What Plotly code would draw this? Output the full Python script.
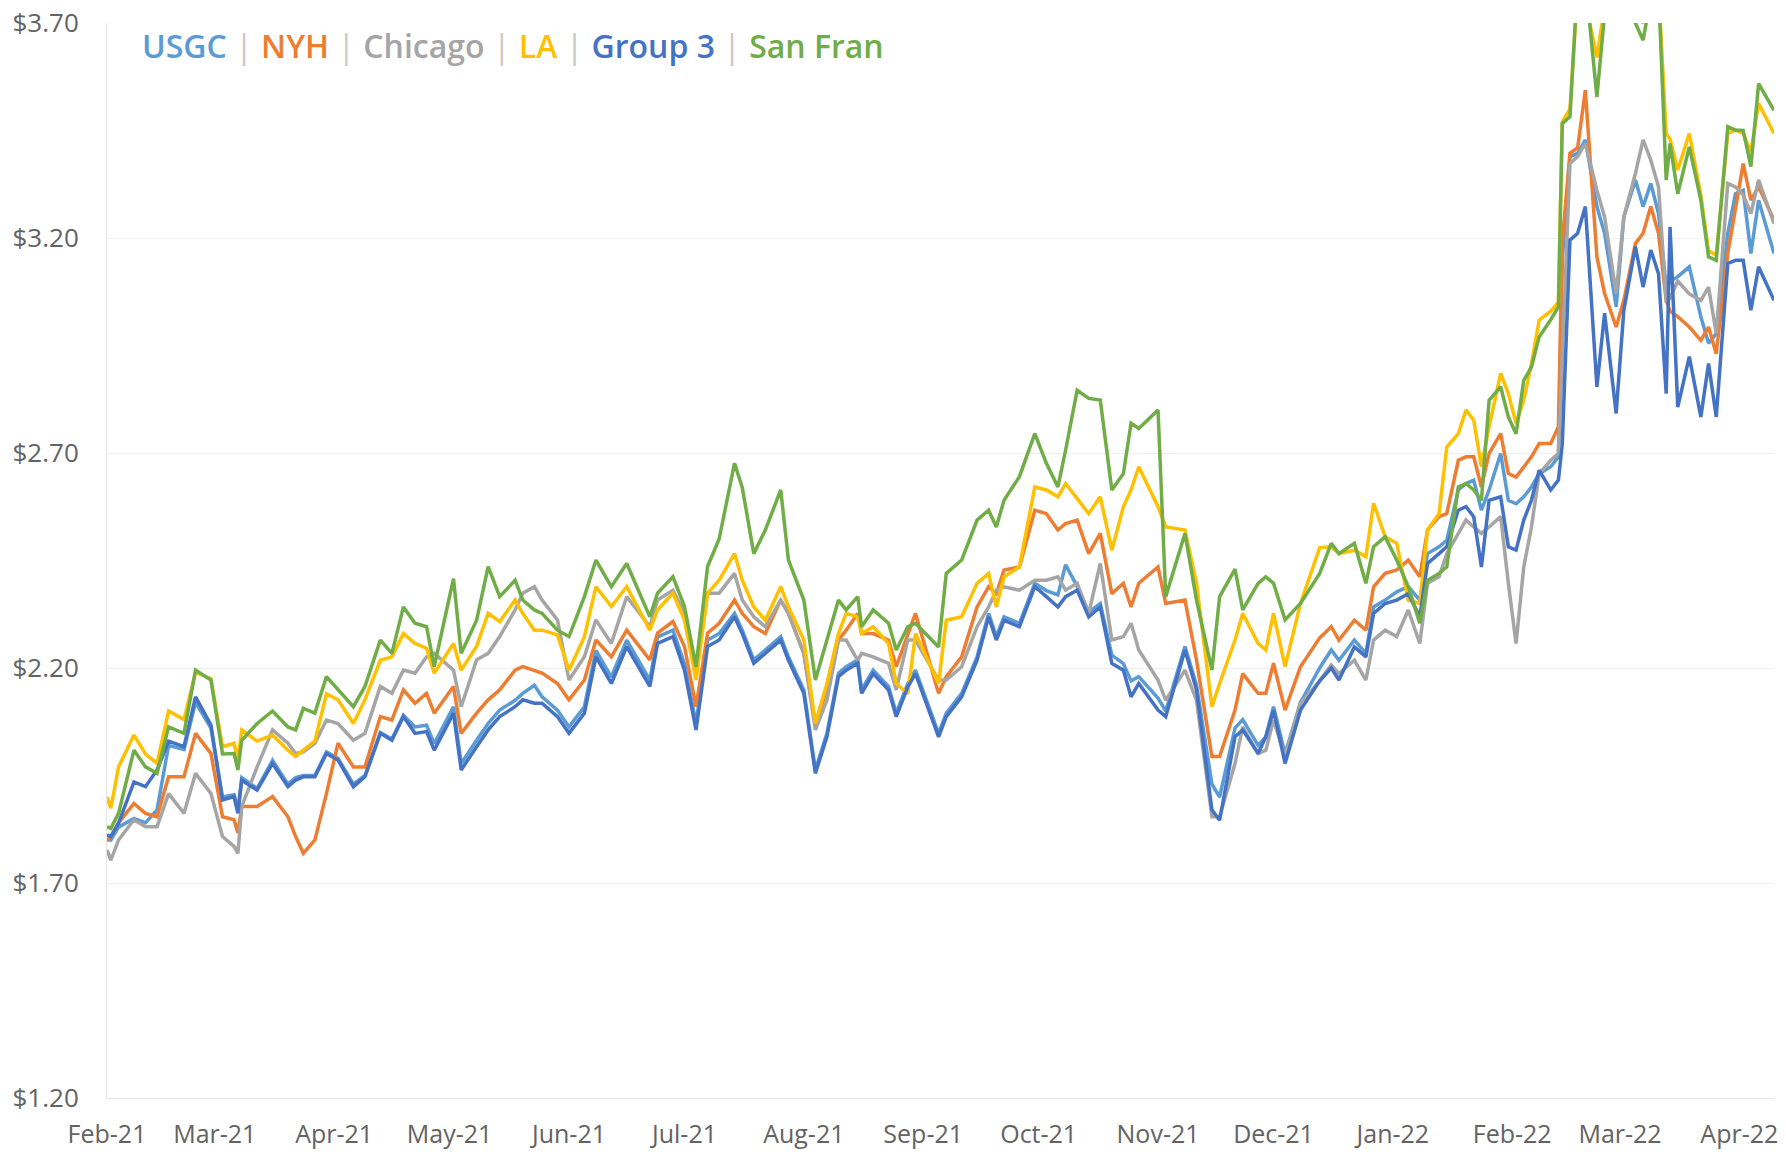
import plotly.graph_objects as go

DATES = [
    # Feb - Apr 2021
    "2021-02-01", "2021-02-02", "2021-02-04", "2021-02-08", "2021-02-11", "2021-02-14", "2021-02-17",
    "2021-02-21", "2021-02-24", "2021-02-28", "2021-03-03", "2021-03-06", "2021-03-07", "2021-03-08",
    "2021-03-12", "2021-03-16", "2021-03-20", "2021-03-22", "2021-03-24", "2021-03-27", "2021-03-30",
    "2021-04-02", "2021-04-06", "2021-04-09", "2021-04-13", "2021-04-16", "2021-04-19",
    # Apr - Jul 2021
    "2021-04-22", "2021-04-25", "2021-04-27", "2021-05-02", "2021-05-04", "2021-05-08", "2021-05-11",
    "2021-05-14", "2021-05-18", "2021-05-20", "2021-05-23", "2021-05-25", "2021-05-29", "2021-06-01",
    "2021-06-05", "2021-06-08", "2021-06-12", "2021-06-16", "2021-06-22", "2021-06-24", "2021-06-28",
    "2021-07-01", "2021-07-04", "2021-07-07", "2021-07-10",
    # Jul - Sep 2021
    "2021-07-14", "2021-07-16", "2021-07-19", "2021-07-22", "2021-07-26", "2021-07-28", "2021-08-01",
    "2021-08-04", "2021-08-07", "2021-08-10", "2021-08-12", "2021-08-15", "2021-08-16", "2021-08-19",
    "2021-08-23", "2021-08-25", "2021-08-28", "2021-08-30", "2021-09-05", "2021-09-07", "2021-09-11",
    "2021-09-15", "2021-09-18", "2021-09-20", "2021-09-22", "2021-09-26", "2021-09-30",
    # Oct - Dec 2021
    "2021-10-03", "2021-10-06", "2021-10-08", "2021-10-11", "2021-10-14", "2021-10-17", "2021-10-20",
    "2021-10-23", "2021-10-25", "2021-10-27", "2021-11-01", "2021-11-03", "2021-11-08", "2021-11-11",
    "2021-11-15", "2021-11-17", "2021-11-21", "2021-11-23", "2021-11-27", "2021-11-29", "2021-12-01",
    "2021-12-04", "2021-12-08", "2021-12-13",
    # Dec 2021 - Jan 2022
    "2021-12-16", "2021-12-18", "2021-12-22", "2021-12-25", "2021-12-27", "2021-12-30", "2022-01-02",
    "2022-01-05", "2022-01-08", "2022-01-10", "2022-01-13",
    # Jan - Feb 2022
    "2022-01-15", "2022-01-18", "2022-01-20", "2022-01-22", "2022-01-24", "2022-01-26", "2022-01-29",
    "2022-01-31", "2022-02-02", "2022-02-04", "2022-02-06", "2022-02-08", "2022-02-11", "2022-02-13",
    # Feb - Apr 2022
    "2022-02-14", "2022-02-16", "2022-02-18", "2022-02-20", "2022-02-23", "2022-02-25", "2022-02-28",
    "2022-03-02", "2022-03-05", "2022-03-07", "2022-03-09", "2022-03-11", "2022-03-13", "2022-03-14",
    "2022-03-16", "2022-03-19", "2022-03-22", "2022-03-24", "2022-03-26", "2022-03-29", "2022-03-31",
    "2022-04-02", "2022-04-04", "2022-04-06", "2022-04-10",
]

USGC = [
    1.800, 1.800, 1.830, 1.850, 1.840, 1.870, 2.020, 2.010, 2.120, 2.060, 1.900, 1.905, 1.870, 1.945,
    1.920, 1.985, 1.930, 1.945, 1.950, 1.950, 2.005, 1.990, 1.930, 1.950, 2.050, 2.035, 2.090,
    2.063, 2.067, 2.024, 2.110, 1.978, 2.032, 2.071, 2.102, 2.125, 2.141, 2.160, 2.133, 2.102, 2.063,
    2.110, 2.241, 2.179, 2.265, 2.172, 2.272, 2.288, 2.210, 2.071, 2.265, 2.280,
    2.327, 2.288, 2.219, 2.242, 2.273, 2.226, 2.149, 1.963, 2.048, 2.188, 2.203, 2.219, 2.149, 2.195,
    2.157, 2.095, 2.164, 2.195, 2.048, 2.095, 2.141, 2.226, 2.327, 2.273, 2.319, 2.304, 2.397,
    2.380, 2.370, 2.440, 2.390, 2.330, 2.350, 2.230, 2.210, 2.170, 2.180, 2.130, 2.100, 2.250, 2.160,
    1.930, 1.900, 2.060, 2.080, 2.020, 2.040, 2.110, 2.000, 2.120, 2.200,
    2.242, 2.218, 2.265, 2.234, 2.342, 2.358, 2.377, 2.389, 2.358, 2.466, 2.482,
    2.497, 2.614, 2.629, 2.637, 2.567, 2.614, 2.699, 2.590, 2.582, 2.598, 2.621, 2.652, 2.668, 2.691,
    3.150, 3.389, 3.397, 3.428, 3.273, 3.211, 3.040, 3.249, 3.335, 3.273, 3.327, 3.257, 3.086, 3.100,
    3.110, 3.133, 3.017, 2.955, 2.978, 3.211, 3.303, 3.311, 3.164, 3.288, 3.164,
]

NYH = [
    1.800, 1.808, 1.840, 1.885, 1.862, 1.854, 1.947, 1.947, 2.048, 2.001, 1.854, 1.847, 1.816, 1.878,
    1.878, 1.901, 1.854, 1.808, 1.769, 1.800, 1.908, 2.025, 1.970, 1.970, 2.087, 2.079, 2.149,
    2.118, 2.141, 2.095, 2.157, 2.048, 2.095, 2.126, 2.149, 2.195, 2.203, 2.195, 2.188, 2.164, 2.126,
    2.172, 2.265, 2.226, 2.288, 2.219, 2.281, 2.308, 2.250, 2.110, 2.281, 2.304,
    2.358, 2.327, 2.296, 2.280, 2.358, 2.327, 2.234, 2.071, 2.149, 2.265, 2.288, 2.327, 2.280, 2.280,
    2.265, 2.203, 2.280, 2.327, 2.141, 2.180, 2.226, 2.342, 2.389, 2.373, 2.428, 2.435, 2.567,
    2.559, 2.521, 2.536, 2.544, 2.466, 2.513, 2.373, 2.397, 2.342, 2.397, 2.435, 2.350, 2.358, 2.218,
    1.994, 1.994, 2.102, 2.187, 2.141, 2.141, 2.211, 2.102, 2.203, 2.270,
    2.296, 2.265, 2.311, 2.288, 2.389, 2.420, 2.428, 2.451, 2.412, 2.521, 2.552,
    2.559, 2.683, 2.691, 2.691, 2.621, 2.699, 2.745, 2.652, 2.644, 2.668, 2.691, 2.722, 2.722, 2.761,
    3.190, 3.397, 3.410, 3.544, 3.156, 3.071, 2.993, 3.055, 3.187, 3.211, 3.273, 3.211, 3.055, 3.030,
    3.017, 2.993, 2.962, 2.993, 2.931, 3.164, 3.273, 3.373, 3.288, 3.319, 3.242,
]

CHICAGO = [
    1.777, 1.753, 1.800, 1.847, 1.831, 1.831, 1.908, 1.862, 1.955, 1.908, 1.808, 1.785, 1.769, 1.878,
    1.970, 2.056, 2.025, 2.001, 2.005, 2.025, 2.079, 2.071, 2.032, 2.048, 2.157, 2.141, 2.195,
    2.188, 2.226, 2.234, 2.195, 2.110, 2.219, 2.234, 2.273, 2.335, 2.374, 2.389, 2.358, 2.312, 2.172,
    2.226, 2.312, 2.257, 2.366, 2.296, 2.358, 2.381, 2.327, 2.188, 2.374, 2.374,
    2.420, 2.358, 2.319, 2.296, 2.358, 2.327, 2.234, 2.056, 2.125, 2.265, 2.265, 2.218, 2.234, 2.226,
    2.211, 2.149, 2.265, 2.265, 2.172, 2.172, 2.203, 2.296, 2.342, 2.381, 2.389, 2.381, 2.404,
    2.404, 2.412, 2.381, 2.397, 2.327, 2.443, 2.265, 2.273, 2.304, 2.242, 2.172, 2.125, 2.195, 2.125,
    1.854, 1.854, 1.978, 2.063, 2.001, 2.009, 2.079, 1.994, 2.118, 2.170,
    2.207, 2.187, 2.218, 2.172, 2.265, 2.288, 2.273, 2.335, 2.257, 2.397, 2.412,
    2.466, 2.513, 2.544, 2.528, 2.513, 2.528, 2.552, 2.397, 2.257, 2.435, 2.528, 2.652, 2.683, 2.699,
    2.940, 3.373, 3.390, 3.420, 3.311, 3.249, 3.071, 3.249, 3.350, 3.428, 3.381, 3.319, 3.055, 3.060,
    3.100, 3.070, 3.055, 3.086, 2.978, 3.327, 3.319, 3.300, 3.257, 3.335, 3.234,
]

LA = [
    1.900, 1.874, 1.970, 2.044, 2.000, 1.978, 2.100, 2.080, 2.190, 2.175, 2.017, 2.025, 1.986, 2.056,
    2.030, 2.044, 2.009, 1.994, 2.009, 2.030, 2.140, 2.126, 2.071, 2.126, 2.218, 2.226, 2.280,
    2.257, 2.246, 2.188, 2.257, 2.195, 2.250, 2.327, 2.308, 2.358, 2.327, 2.288, 2.288, 2.277, 2.195,
    2.273, 2.389, 2.343, 2.389, 2.288, 2.335, 2.374, 2.312, 2.172, 2.374, 2.404,
    2.466, 2.404, 2.342, 2.311, 2.389, 2.342, 2.265, 2.071, 2.164, 2.280, 2.327, 2.319, 2.280, 2.296,
    2.257, 2.164, 2.140, 2.280, 2.164, 2.311, 2.319, 2.397, 2.420, 2.342, 2.412, 2.435, 2.621,
    2.614, 2.598, 2.629, 2.594, 2.559, 2.598, 2.474, 2.575, 2.614, 2.668, 2.575, 2.528, 2.521, 2.397,
    2.110, 2.164, 2.265, 2.327, 2.257, 2.242, 2.327, 2.203, 2.350, 2.480,
    2.482, 2.466, 2.474, 2.459, 2.583, 2.505, 2.490, 2.358, 2.350, 2.521, 2.559,
    2.714, 2.745, 2.800, 2.776, 2.668, 2.761, 2.885, 2.838, 2.769, 2.823, 2.908, 3.009, 3.030, 3.050,
    3.470, 3.500, 3.780, 3.750, 3.620, 3.740, 3.770, 3.760, 3.720, 3.700, 3.780, 3.780, 3.443, 3.430,
    3.358, 3.443, 3.300, 3.170, 3.160, 3.443, 3.451, 3.443, 3.400, 3.513, 3.443,
]

GROUP3 = [
    1.812, 1.808, 1.839, 1.935, 1.924, 1.963, 2.030, 2.017, 2.133, 2.067, 1.893, 1.901, 1.862, 1.939,
    1.916, 1.978, 1.924, 1.939, 1.947, 1.947, 2.001, 1.986, 1.924, 1.947, 2.048, 2.032, 2.087,
    2.048, 2.052, 2.009, 2.095, 1.963, 2.017, 2.056, 2.087, 2.110, 2.126, 2.118, 2.118, 2.087, 2.048,
    2.095, 2.226, 2.164, 2.250, 2.157, 2.257, 2.273, 2.195, 2.056, 2.250, 2.265,
    2.319, 2.280, 2.211, 2.234, 2.265, 2.218, 2.141, 1.955, 2.040, 2.180, 2.195, 2.211, 2.141, 2.187,
    2.149, 2.087, 2.156, 2.187, 2.040, 2.087, 2.133, 2.218, 2.319, 2.265, 2.311, 2.296, 2.389,
    2.366, 2.342, 2.366, 2.381, 2.319, 2.342, 2.211, 2.195, 2.133, 2.164, 2.102, 2.087, 2.242, 2.149,
    1.870, 1.846, 2.040, 2.056, 2.001, 2.040, 2.102, 1.978, 2.102, 2.170,
    2.200, 2.172, 2.249, 2.226, 2.327, 2.350, 2.358, 2.373, 2.319, 2.443, 2.466,
    2.482, 2.567, 2.575, 2.552, 2.435, 2.590, 2.598, 2.482, 2.474, 2.544, 2.590, 2.660, 2.614, 2.637,
    2.720, 3.195, 3.211, 3.273, 2.854, 3.025, 2.792, 3.032, 3.180, 3.086, 3.172, 3.117, 2.838, 3.226,
    2.807, 2.924, 2.784, 2.908, 2.784, 3.141, 3.148, 3.148, 3.032, 3.133, 3.055,
]

SAN_FRAN = [
    1.831, 1.827, 1.862, 2.009, 1.970, 1.955, 2.063, 2.048, 2.195, 2.172, 2.000, 2.001, 1.963, 2.032,
    2.071, 2.100, 2.063, 2.056, 2.106, 2.095, 2.180, 2.149, 2.110, 2.157, 2.265, 2.234, 2.342,
    2.304, 2.296, 2.203, 2.408, 2.234, 2.311, 2.436, 2.366, 2.404, 2.358, 2.335, 2.327, 2.288, 2.273,
    2.366, 2.451, 2.389, 2.443, 2.319, 2.374, 2.412, 2.343, 2.203, 2.436, 2.500,
    2.676, 2.620, 2.466, 2.521, 2.614, 2.451, 2.358, 2.172, 2.265, 2.358, 2.335, 2.366, 2.296, 2.335,
    2.304, 2.242, 2.296, 2.304, 2.249, 2.420, 2.451, 2.544, 2.567, 2.528, 2.590, 2.645, 2.745,
    2.676, 2.621, 2.707, 2.846, 2.827, 2.823, 2.614, 2.652, 2.769, 2.757, 2.800, 2.366, 2.513, 2.358,
    2.195, 2.366, 2.430, 2.335, 2.397, 2.412, 2.397, 2.312, 2.350, 2.420,
    2.490, 2.466, 2.490, 2.397, 2.482, 2.505, 2.451, 2.389, 2.304, 2.404, 2.420,
    2.435, 2.621, 2.629, 2.614, 2.590, 2.823, 2.854, 2.784, 2.745, 2.869, 2.900, 2.970, 3.010, 3.040,
    3.466, 3.482, 3.800, 3.800, 3.528, 3.722, 3.780, 3.760, 3.700, 3.660, 3.760, 3.780, 3.335, 3.420,
    3.303, 3.412, 3.288, 3.156, 3.148, 3.459, 3.451, 3.450, 3.366, 3.559, 3.497,
]

SERIES_NAMES = ["USGC", "NYH", "Chicago", "LA", "Group 3", "San Fran"]
SERIES_VALUES = [USGC, NYH, CHICAGO, LA, GROUP3, SAN_FRAN]
COLORS = ["#5B9BD5", "#ED7D31", "#A5A5A5", "#FFC000", "#4472C4", "#70AD47"]

MONTH_TICKS = ["2021-02-01", "2021-03-01", "2021-04-01", "2021-05-01", "2021-06-01", "2021-07-01",
               "2021-08-01", "2021-09-01", "2021-10-01", "2021-11-01", "2021-12-01", "2022-01-01",
               "2022-02-01", "2022-03-01", "2022-04-01"]
MONTH_LABELS = ["Feb-21", "Mar-21", "Apr-21", "May-21", "Jun-21", "Jul-21", "Aug-21", "Sep-21",
                "Oct-21", "Nov-21", "Dec-21", "Jan-22", "Feb-22", "Mar-22", "Apr-22"]
Y_TICKS = [1.20, 1.70, 2.20, 2.70, 3.20, 3.70]
Y_LABELS = ["$1.20", "$1.70", "$2.20", "$2.70", "$3.20", "$3.70"]

for name, vals in zip(SERIES_NAMES, SERIES_VALUES):
    if len(vals) != len(DATES):
        raise ValueError(f"{name}: {len(vals)} values vs {len(DATES)} dates")

fig = go.Figure()
for name, vals, color in zip(SERIES_NAMES, SERIES_VALUES, COLORS):
    fig.add_trace(go.Scatter(x=DATES, y=vals, mode="lines", name=name,
                             line=dict(color=color, width=3.5)))

sep = "<span style='color:#C8C8C8;font-weight:normal'> | </span>"
legend_text = sep.join(f"<span style='color:{c}'>{n}</span>" for n, c in zip(SERIES_NAMES, COLORS))

fig.add_annotation(
    xref="paper", yref="paper", x=0.0195, y=0.9795, xanchor="left", yanchor="middle",
    text=legend_text, showarrow=False,
    font=dict(family="Open Sans", size=32, weight=600),
)

fig.update_layout(
    width=1786, height=1152,
    margin=dict(l=107, r=12, t=23, b=54),
    paper_bgcolor="white", plot_bgcolor="white",
    showlegend=False,
    font=dict(family="Open Sans", color="#636363", size=26),
    xaxis=dict(
        type="date", range=["2021-02-01", "2022-04-10"],
        tickvals=MONTH_TICKS, ticktext=MONTH_LABELS, automargin=False,
        showgrid=False, showline=True, linecolor="#E6E6E6", linewidth=1,
        ticks="", ticklabelstandoff=14, zeroline=False,
        tickfont=dict(size=25),
    ),
    yaxis=dict(
        range=[1.20, 3.70], tickvals=Y_TICKS, ticktext=Y_LABELS, automargin=False,
        showgrid=True, gridcolor="#F0F0F0", gridwidth=1,
        showline=True, linecolor="#E6E6E6", linewidth=1,
        ticks="", ticklabelstandoff=22, zeroline=False,
    ),
)

fig.write_html(
    "out.html",
    config={"displayModeBar": False},
    post_script="document.body.style.margin='0px';document.body.style.overflow='hidden';",
)
